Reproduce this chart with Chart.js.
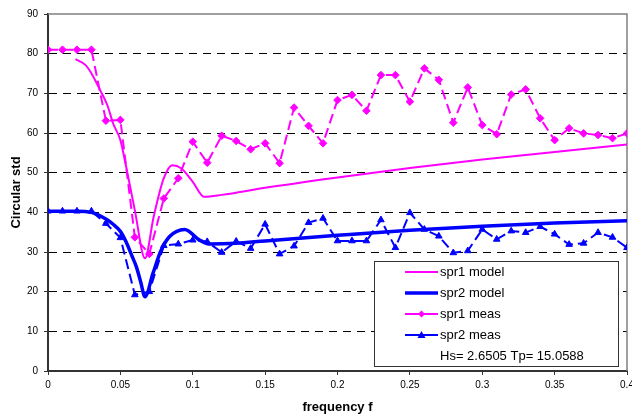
<!DOCTYPE html>
<html>
<head>
<meta charset="utf-8">
<script src="https://cdn.jsdelivr.net/npm/chart.js@4/dist/chart.umd.min.js"></script>
<style>
  html, body { margin: 0; padding: 0; background: #fff; }
  #wrap { width: 632px; height: 415px; }
</style>
</head>
<body>
<div id="wrap"><canvas id="stdChart"></canvas></div>
<script>
// measured points, one every 0.01
const freqMeas = [0, 0.01, 0.02, 0.03, 0.04, 0.05, 0.06, 0.07, 0.08, 0.09, 0.1,
  0.11, 0.12, 0.13, 0.14, 0.15, 0.16, 0.17, 0.18, 0.19, 0.2,
  0.21, 0.22, 0.23, 0.24, 0.25, 0.26, 0.27, 0.28, 0.29, 0.3,
  0.31, 0.32, 0.33, 0.34, 0.35, 0.36, 0.37, 0.38, 0.39, 0.4];
const spr1Meas = [81, 81, 81, 81, 63.1, 63.3, 33.7, 29.5, 43.5, 48.6, 57.8,
  52.5, 59.3, 58.0, 55.9, 57.4, 52.4, 66.4, 61.8, 57.4, 68.3,
  69.6, 65.6, 74.6, 74.6, 67.9, 76.3, 73.4, 62.6, 71.5, 62.0,
  59.7, 69.7, 71.0, 63.7, 58.2, 61.2, 59.9, 59.5, 58.7, 59.9];
const spr2Meas = [40.3, 40.3, 40.3, 40.3, 37.2, 33.6, 19.2, 20.0, 31.6, 32.0, 33.0,
  32.6, 29.9, 32.7, 30.9, 37.0, 29.5, 31.5, 37.4, 38.5, 32.8,
  32.8, 32.8, 38.1, 31.1, 39.9, 35.7, 34.0, 29.8, 30.3, 35.7,
  33.2, 35.3, 34.9, 36.4, 34.5, 31.9, 32.2, 34.9, 33.7, 31.1];

// model curves
const freqModel1 = [0.019, 0.026, 0.031, 0.036, 0.041, 0.045, 0.05, 0.054, 0.06, 0.067,
  0.073, 0.08, 0.086, 0.092, 0.1, 0.108, 0.12, 0.15, 0.2, 0.25, 0.3, 0.35, 0.4];
const spr1Model = [78.6, 77.1, 74.4, 70.8, 67.0, 62.4, 58.2, 51.5, 40.5, 28.4,
  38.9, 48.6, 51.9, 51.1, 47.7, 43.9, 44.4, 46.2, 48.8, 51.2, 53.3, 55.2, 57.1];
const freqModel2 = [0, 0.02, 0.03, 0.035, 0.04, 0.045, 0.05, 0.054, 0.058, 0.061, 0.064, 0.067,
  0.0725, 0.078, 0.084, 0.0944, 0.1047, 0.112, 0.13, 0.15, 0.2, 0.25, 0.3, 0.35, 0.4];
const spr2Model = [40.3, 40.3, 40.0, 39.3, 38.3, 37.0, 35.2, 32.5, 29.0, 26.3, 22.5, 18.7,
  24.6, 30.3, 33.9, 35.7, 33.0, 32.0, 32.2, 32.8, 34.2, 35.5, 36.5, 37.3, 37.9];

const legendNote = "Hs= 2.6505 Tp= 15.0588";

const MAGENTA = "#ff00ff";
const BLUE = "#0000ff";
const FONT = "'Liberation Sans', Arial, sans-serif";

const pairs = (xs, ys) => xs.map((x, i) => ({ x: x, y: ys[i] }));

// white box with the series names and the Hs/Tp note
const legendBox = {
  id: "legendBox",
  afterDatasetsDraw(chart) {
    const ctx = chart.ctx;
    const area = chart.chartArea;
    const left = area.right - 253, top = area.bottom - 110;
    const w = 244, h = 105;
    ctx.save();
    ctx.fillStyle = "#fff";
    ctx.fillRect(left, top, w, h);
    ctx.strokeStyle = "#333";
    ctx.lineWidth = 1;
    ctx.strokeRect(left + 0.5, top + 0.5, w, h);

    ctx.font = "13px " + FONT;
    ctx.textBaseline = "middle";
    ctx.fillStyle = "#000";
    chart.data.datasets.forEach((ds, i) => {
      const y = top + 11 + i * 21;
      const x0 = left + 31, x1 = left + 64;
      ctx.strokeStyle = ds.borderColor;
      ctx.lineWidth = ds.borderWidth;
      ctx.setLineDash([]);
      ctx.beginPath();
      ctx.moveTo(x0, y);
      ctx.lineTo(x1, y);
      ctx.stroke();
      const cx = (x0 + x1) / 2;
      ctx.fillStyle = ds.borderColor;
      if (ds.pointStyle === "rectRot") {
        ctx.beginPath();
        ctx.moveTo(cx, y - 3.5); ctx.lineTo(cx + 3.5, y); ctx.lineTo(cx, y + 3.5); ctx.lineTo(cx - 3.5, y);
        ctx.closePath(); ctx.fill();
      } else if (ds.pointStyle === "triangle") {
        ctx.beginPath();
        ctx.moveTo(cx, y - 4); ctx.lineTo(cx + 4, y + 3); ctx.lineTo(cx - 4, y + 3);
        ctx.closePath(); ctx.fill();
      }
      ctx.fillStyle = "#000";
      ctx.fillText(ds.label, x1 + 2, y);
    });
    ctx.fillText(legendNote, left + 66, top + 95);
    ctx.restore();
  }
};

// grey frame on top and right of the plot
const plotFrame = {
  id: "plotFrame",
  beforeDatasetsDraw(chart) {
    const ctx = chart.ctx;
    const a = chart.chartArea;
    ctx.save();
    ctx.strokeStyle = "#808080";
    ctx.lineWidth = 1.5;
    ctx.beginPath();
    ctx.moveTo(a.left, a.top);
    ctx.lineTo(a.right, a.top);
    ctx.lineTo(a.right, a.bottom);
    ctx.stroke();
    ctx.restore();
  }
};

new Chart(document.getElementById("stdChart"), {
  type: "line",
  data: {
    datasets: [
      {
        label: "spr1 model",
        data: pairs(freqModel1, spr1Model),
        borderColor: MAGENTA,
        borderWidth: 2,
        pointRadius: 0,
        cubicInterpolationMode: "monotone",
        fill: false
      },
      {
        label: "spr2 model",
        data: pairs(freqModel2, spr2Model),
        borderColor: BLUE,
        borderWidth: 3.5,
        pointRadius: 0,
        cubicInterpolationMode: "monotone",
        fill: false
      },
      {
        label: "spr1 meas",
        data: pairs(freqMeas, spr1Meas),
        borderColor: MAGENTA,
        backgroundColor: MAGENTA,
        borderWidth: 2,
        borderDash: [10, 5],
        pointStyle: "rectRot",
        pointRadius: 3.8,
        pointBorderWidth: 1,
        tension: 0,
        fill: false
      },
      {
        label: "spr2 meas",
        data: pairs(freqMeas, spr2Meas),
        borderColor: BLUE,
        backgroundColor: BLUE,
        borderWidth: 2,
        borderDash: [10, 5],
        pointStyle: "triangle",
        pointRadius: 3.8,
        pointBorderWidth: 1,
        tension: 0,
        fill: false
      }
    ]
  },
  options: {
    responsive: true,
    maintainAspectRatio: false,
    animation: false,
    layout: { padding: { top: 14, right: 3, left: 0, bottom: 0 } },
    plugins: {
      legend: { display: false },
      tooltip: { enabled: false }
    },
    scales: {
      x: {
        type: "linear",
        min: 0,
        max: 0.4,
        ticks: {
          stepSize: 0.05,
          padding: 4,
          color: "#000",
          maxRotation: 0,
          font: { family: FONT, size: 10 },
          callback: (v) => String(Number(v.toFixed(2)))
        },
        grid: { drawOnChartArea: false, drawTicks: true, tickLength: 4, tickColor: "#333", tickWidth: 1 },
        border: { color: "#333", width: 2 },
        title: {
          display: true,
          text: "frequency f",
          color: "#000",
          font: { family: FONT, size: 13, weight: "bold" },
          padding: { top: 4, bottom: 0 }
        },
        afterFit: (s) => { s.height = 44; s.paddingLeft = 0; s.paddingRight = 0; }
      },
      y: {
        min: 0,
        max: 90,
        ticks: {
          stepSize: 10,
          padding: 6,
          color: "#000",
          font: { family: FONT, size: 10 }
        },
        grid: {
          color: (c) => (c.tick && (c.tick.value === 0 || c.tick.value === 90)) ? "rgba(0,0,0,0)" : "#000",
          lineWidth: 1,
          drawTicks: true,
          tickLength: 4,
          tickColor: "#333",
          tickBorderDash: []
        },
        border: { color: "#333", width: 2, dash: [8, 6] },
        title: {
          display: true,
          text: "Circular std",
          color: "#000",
          font: { family: FONT, size: 13, weight: "bold" },
          padding: { top: 9, bottom: 0 }
        },
        afterFit: (s) => { s.width = 48; s.paddingTop = 0; s.paddingBottom = 0; }
      }
    }
  },
  plugins: [plotFrame, legendBox]
});
</script>
</body>
</html>
